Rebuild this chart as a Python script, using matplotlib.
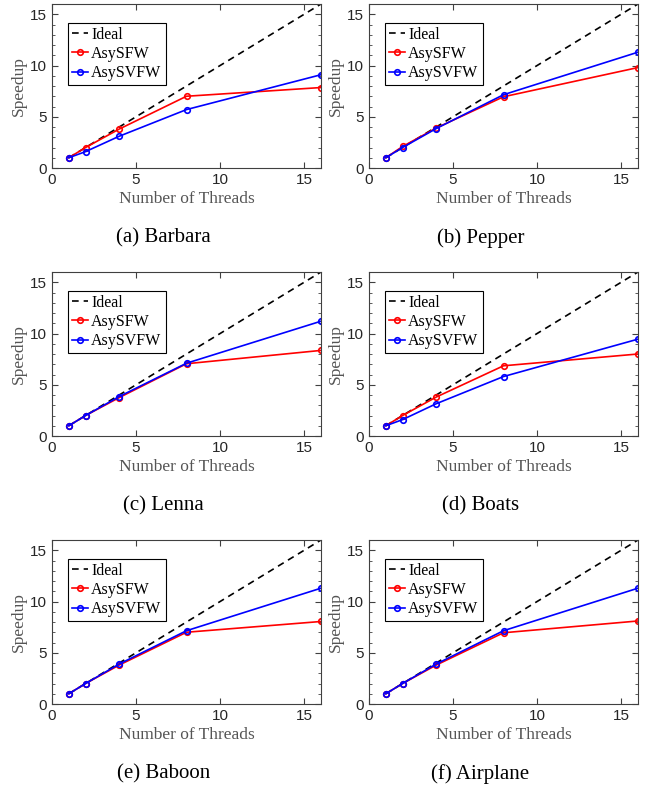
import numpy as np
import matplotlib
matplotlib.use('Agg')
import matplotlib.pyplot as plt
from matplotlib.ticker import MultipleLocator

# thread counts and speedups
threads = [1, 2, 4, 8, 16]
ideal = [1, 2, 4, 8, 16]

captions = ['(a) Barbara', '(b) Pepper', '(c) Lenna',
            '(d) Boats', '(e) Baboon', '(f) Airplane']

sfw_barbara = [1, 2.0, 3.8, 7.0, 7.85]
svfw_barbara = [1, 1.6, 3.1, 5.7, 9.1]
sfw_pepper = [1, 2.1, 3.9, 6.95, 9.8]
svfw_pepper = [1, 2.0, 3.85, 7.15, 11.3]
sfw_lenna = [1, 2.0, 3.75, 7.05, 8.35]
svfw_lenna = [1, 2.0, 3.85, 7.1, 11.2]
sfw_boats = [1, 2.0, 3.8, 6.85, 8.0]
svfw_boats = [1, 1.6, 3.15, 5.8, 9.45]
sfw_baboon = [1, 2.0, 3.8, 7.0, 8.05]
svfw_baboon = [1, 2.0, 3.9, 7.15, 11.3]
sfw_airplane = [1, 2.0, 3.8, 6.95, 8.1]
svfw_airplane = [1, 2.0, 3.9, 7.15, 11.3]

sfw = [sfw_barbara, sfw_pepper, sfw_lenna, sfw_boats, sfw_baboon, sfw_airplane]
svfw = [svfw_barbara, svfw_pepper, svfw_lenna, svfw_boats, svfw_baboon, svfw_airplane]

W, H = 646, 789
fig = plt.figure(figsize=(W / 100, H / 100), dpi=100)

serif = 'Liberation Serif'
sans = 'Liberation Sans'
grey = '#404040'

lefts = [52, 369]
tops = [4, 272, 540]
aw, ah = 269, 164

for i in range(6):
    r, c = divmod(i, 2)
    x0, y0 = lefts[c], tops[r]
    ax = fig.add_axes([x0 / W, 1 - (y0 + ah) / H, aw / W, ah / H])
    ax.plot(threads, ideal, '--', color='k', lw=1.2, dashes=(4, 3), label='Ideal')
    ax.plot(threads, sfw[i], '-o', color='red', lw=1.2, ms=4,
            mfc='none', mew=1.2, label='AsySFW')
    ax.plot(threads, svfw[i], '-o', color='blue', lw=1.2, ms=4,
            mfc='none', mew=1.2, label='AsySVFW')
    ax.set_xlim(0, 16)
    ax.set_ylim(0, 16)
    ax.set_xticks([0, 5, 10, 15])
    ax.set_yticks([0, 5, 10, 15])
    ax.yaxis.set_minor_locator(MultipleLocator(1))
    ax.tick_params(which='both', direction='in', top=True, right=True,
                   labelsize=11, colors=grey, labelcolor='#262626')
    ax.tick_params(which='major', length=4)
    ax.tick_params(which='minor', length=2)
    for lab in ax.get_xticklabels() + ax.get_yticklabels():
        lab.set_fontfamily(sans)
    for s in ax.spines.values():
        s.set_color(grey)
        s.set_linewidth(0.8)
    ax.set_xlabel('Number of Threads', family=serif, fontsize=12.5,
                  color='#555555', labelpad=3)
    ax.set_ylabel('Speedup', family=serif, fontsize=12.5,
                  color='#555555', labelpad=2)
    leg = ax.legend(loc='upper left', bbox_to_anchor=(0.06, 0.885),
                    prop={'family': serif, 'size': 11.5},
                    fancybox=False, framealpha=1, edgecolor='k',
                    handlelength=1.0, handletextpad=0.2, labelspacing=0.2,
                    borderpad=0.25, borderaxespad=0)
    leg.get_frame().set_linewidth(0.8)
    fig.text((x0 + aw / 2 - 23) / W, 1 - (y0 + ah + 70) / H, captions[i],
             family=serif, fontsize=15, ha='center', va='center')

fig.savefig('out.png', dpi=100)
